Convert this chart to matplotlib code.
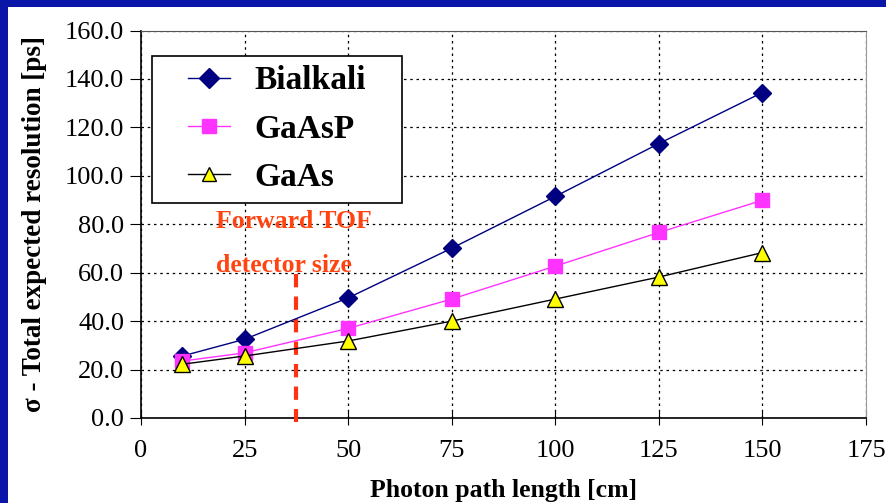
import matplotlib
matplotlib.use('Agg')
import matplotlib.pyplot as plt
from matplotlib.patches import Rectangle

# Path length (cm) and expected time resolution (ps) per photocathode
path_length = [10, 25, 50, 75, 100, 125, 150]
bialkali = [25.6, 32.5, 49.6, 70.1, 91.5, 113.3, 134.4]
gaasp = [23.5, 26.9, 37.0, 49.1, 62.7, 76.6, 89.9]
gaas = [22.2, 25.6, 31.8, 40.0, 49.1, 58.2, 68.3]

detector_size = 37.5
x_ticks = [0, 25, 50, 75, 100, 125, 150, 175]
y_ticks = [0, 20, 40, 60, 80, 100, 120, 140, 160]

plt.rcParams['font.family'] = ['Liberation Serif', 'DejaVu Serif']

fig = plt.figure(figsize=(8.86, 5.03), dpi=100, facecolor='white')

# slide border (left and top only)
slide_blue = '#0A16A8'
fig.add_artist(Rectangle((0, 0), 8 / 886, 1, transform=fig.transFigure,
                         facecolor=slide_blue, edgecolor='none', zorder=0))
fig.add_artist(Rectangle((0, 1 - 7 / 503), 1, 7 / 503, transform=fig.transFigure,
                         facecolor=slide_blue, edgecolor='none', zorder=0))

ax = fig.add_axes([141 / 886, 1 - 418 / 503, 725 / 886, 387.5 / 503])

ax.plot(path_length, bialkali, color='#000080', lw=1.0, marker='D', ms=9,
        mfc='#000080', mec='#000080', label='Bialkali', zorder=4)
ax.plot(path_length, gaasp, color='#FF33FF', lw=1.0, marker='s', ms=10,
        mfc='#FF33FF', mec='#FF33FF', label='GaAsP', zorder=4)
ax.plot(path_length, gaas, color='black', lw=1.0, marker='^', ms=11,
        mfc='#FFFF00', mec='black', mew=1.0, label='GaAs', zorder=4)

# forward TOF detector size marker
ax.plot([detector_size, detector_size], [59.5, -1.5], color='#FF3311', lw=3,
        ls=(0, (3.2, 2.2)), clip_on=False, zorder=3)
ax.text(18.0, 81, 'Forward TOF', color='#FF4411', fontsize=18.5, fontweight='bold',
        ha='left', va='center')
ax.text(18.0, 63, 'detector size', color='#FF4411', fontsize=18.5, fontweight='bold',
        ha='left', va='center')

ax.set_xlim(0, 175)
ax.set_ylim(0, 160)
ax.set_xticks(x_ticks)
ax.set_yticks(y_ticks)
ax.set_yticklabels([f'{v:.1f}' for v in y_ticks])
ax.tick_params(axis='x', direction='inout', length=10, labelsize=19, pad=11)
ax.tick_params(axis='y', direction='out', length=8, labelsize=19, pad=4)

ax.grid(True, color='black', ls=(0, (2, 3)), lw=0.9)
ax.spines['top'].set_color('#555555')
ax.spines['right'].set_color('#999999')
ax.spines['left'].set_linewidth(1.2)
ax.spines['bottom'].set_linewidth(1.2)

ax.set_xlabel('Photon path length [cm]', fontsize=18.5, fontweight='bold', labelpad=12)
ax.set_ylabel('σ - Total expected resolution [ps]', fontsize=19.5, fontweight='bold',
              labelpad=13)

# legend box with wide side margins
ax.add_patch(Rectangle((0.0152, 0.555), 0.345, 0.379, transform=ax.transAxes,
                       facecolor='white', edgecolor='black', lw=1.2, zorder=5))
leg = ax.legend(loc='center left', bbox_to_anchor=(0.065, 0.745), borderaxespad=0,
                prop={'weight': 'bold', 'size': 24}, frameon=False,
                handlelength=1.25, handletextpad=0.75, labelspacing=0.52,
                borderpad=0)
leg.set_zorder(6)
for h in leg.legend_handles:
    h.set_markersize(10)

fig.savefig('out.png', dpi=100, facecolor='white')
